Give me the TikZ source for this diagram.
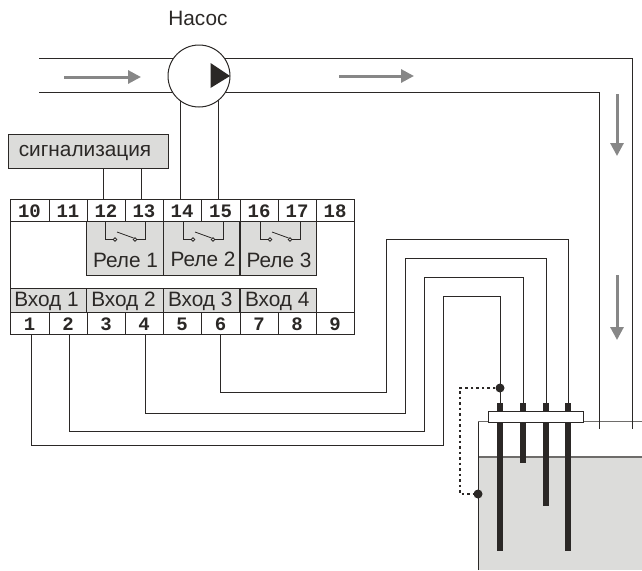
\documentclass[tikz,border=0pt]{standalone}
\usepackage{fontspec}
\setmainfont{Liberation Sans}
\newfontfamily\termfont{Liberation Mono}
\usetikzlibrary{arrows.meta}
\definecolor{ink}{HTML}{2B2826}
\definecolor{panel}{HTML}{DCDCDA}
\definecolor{flow}{HTML}{878787}
\definecolor{tankline}{HTML}{6E6C6A}
\tikzset{
  wire/.style={draw=ink,line width=0.9pt},
  term/.style={draw=ink,line width=1pt,fill=white,inner sep=0pt,minimum height=22pt},
  termtext/.style={font=\termfont\bfseries\fontsize{19}{19}\selectfont,text=ink,inner sep=0pt,anchor=base},
  label/.style={font=\fontsize{20.8}{21}\selectfont,text=ink,inner sep=0pt,anchor=base},
  cell/.style={draw=ink,line width=1pt,fill=panel,inner sep=0pt},
  flowarrow/.style={draw=flow,line width=3pt,-{Triangle[length=13pt,width=13pt]}},
  electrode/.style={fill=ink,draw=none},
  contact/.style={circle,draw=ink,line width=0.8pt,fill=white,inner sep=0pt,minimum size=3.5pt},
  dot/.style={circle,fill=ink,draw=none,inner sep=0pt,minimum size=9pt},
  signal/.style={draw=ink,line width=1.7pt,dash pattern=on 2.5pt off 3pt},
}
\begin{document}
\begin{tikzpicture}[x=1pt,y=-1pt]
\useasboundingbox (0,0) rectangle (642,570);
% tank
\fill[panel] (478,457) rectangle (642,570);
\draw[draw=tankline,line width=1.2pt] (478,457) -- (642,457);
\draw[draw=tankline,line width=1.2pt] (478,421.7) -- (642,421.7);
\draw[wire] (478,570) -- (478,421.7);
% pipes
\coordinate (pipeTopL) at (39,58.5);
\coordinate (pipeBotL) at (39,92.5);
\coordinate (pipeTopC) at (632.7,58.5);
\coordinate (pipeBotC) at (599,92.5);
\coordinate (pipeEndO) at (632.7,429);
\coordinate (pipeEndI) at (599,429);
\draw[wire] (pipeTopL) -- (pipeTopC) -- (pipeEndO);
\draw[wire] (pipeBotL) -- (pipeBotC) -- (pipeEndI);
% flow arrows
\coordinate (a1s) at (64,77); \coordinate (a1e) at (141,77);
\coordinate (a2s) at (339,76); \coordinate (a2e) at (414,76);
\coordinate (a3s) at (617,94); \coordinate (a3e) at (617,156);
\coordinate (a4s) at (617,275); \coordinate (a4e) at (617,340);
\draw[flowarrow] (a1s) -- (a1e);
\draw[flowarrow] (a2s) -- (a2e);
\draw[flowarrow] (a3s) -- (a3e);
\draw[flowarrow] (a4s) -- (a4e);
% control wires from the pump (drawn under the pump circle)
\coordinate (p14) at (180.5,199); \coordinate (m14) at (180.5,100);
\coordinate (p15) at (218,199); \coordinate (m15) at (218,100);
\draw[wire] (p14) -- (m14);
\draw[wire] (p15) -- (m15);
% pump
\node[circle,draw=ink,line width=1pt,fill=white,minimum size=62pt,inner sep=0pt] (pump) at (199,76) {};
\fill[ink] (210.5,63) -- (230,76) -- (210.5,88) -- cycle;
\node[label] (pumpname) at (198,25.7) {Насос};
% controller body
\draw[draw=ink,line width=1pt] (10,199) rectangle (354,334);
% signalling box
\node[cell,minimum width=160pt,minimum height=34.5pt] (alarm) at (88,151.3) {};
\node[label] (alarmt) at (85,156.7) {сигнализация};
% relay cells
\node[cell,minimum width=76.5pt,minimum height=54pt] (r1) at (125.2,248) {};
\node[cell,minimum width=76.5pt,minimum height=54pt] (r2) at (201.7,248) {};
\node[cell,minimum width=76pt,minimum height=54pt] (r3) at (278,248) {};
\node[label] (r1t) at (125.5,267.7) {Реле 1};
\node[label] (r2t) at (203,266) {Реле 2};
\node[label] (r3t) at (279,267.7) {Реле 3};
% inputs
\node[cell,minimum width=77pt,minimum height=24pt] (i1) at (48.5,300) {};
\node[cell,minimum width=76.5pt,minimum height=24pt] (i2) at (125.2,300) {};
\node[cell,minimum width=76.5pt,minimum height=24pt] (i3) at (201.7,300) {};
\node[cell,minimum width=76pt,minimum height=24pt] (i4) at (278,300) {};
\node[label] (i1t) at (46.5,306) {Вход 1};
\node[label] (i2t) at (123.5,306) {Вход 2};
\node[label] (i3t) at (200.2,306) {Вход 3};
\node[label] (i4t) at (277.2,306) {Вход 4};
% terminals
\foreach \n/\l/\w in {10/10/39,11/49/38,12/87/38,13/125/38,14/163/38,15/201/39,16/240/38,17/278/38,18/316/38}{
  \node[term,minimum width=\w pt] (t\n) at (\l+\w/2,210) {};
  \node[termtext] (l\n) at (\l+\w/2,217.5) {\n};
}
\foreach \n/\l/\w in {1/10/39,2/49/38,3/87/38,4/125/38,5/163/38,6/201/39,7/240/38,8/278/38,9/316/38}{
  \node[term,minimum width=\w pt] (t\n) at (\l+\w/2,323) {};
  \node[termtext] (l\n) at (\l+\w/2,330) {\n};
}
% relay contacts
\foreach \r/\a/\b/\c/\d in {1/105/115/135/145.3,2/183.3/193/213/223.7,3/260/270/290/300.3}{
  \coordinate (lead\r a) at (\a,221);
  \coordinate (lead\r d) at (\d,221);
  \node[contact] (cl\r) at (\b,239.5) {};
  \node[contact] (cr\r) at (\c,239.5) {};
  \draw[wire] (lead\r a) |- (cl\r.west);
  \draw[wire] (lead\r d) |- (cr\r.east);
  \coordinate (sw\r) at (\b+2,232);
  \draw[wire,line width=0.8pt] (sw\r) -- (cr\r.north west);
}
% alarm wires
\coordinate (p12) at (103,199); \coordinate (a12) at (103,168.5);
\coordinate (p13) at (141,199); \coordinate (a13) at (141,168.5);
\draw[wire] (a12) -- (p12);
\draw[wire] (a13) -- (p13);
% electrodes
\coordinate (e1) at (500,403); \coordinate (e2) at (523,403);
\coordinate (e3) at (546,403); \coordinate (e4) at (568,403);
\fill[electrode] (497,403) rectangle (503,551);
\fill[electrode] (520,403) rectangle (526,463);
\fill[electrode] (543,403) rectangle (549,506);
\fill[electrode] (565,403) rectangle (571,551);
\node[draw=ink,line width=1pt,fill=white,minimum width=94.7pt,minimum height=11pt,inner sep=0pt] (plate) at (536.3,416.5) {};
% sensor wires
\coordinate (w1a) at (31.5,334); \coordinate (w2a) at (69,334); \coordinate (w4a) at (145,334); \coordinate (w6a) at (220,334);
\draw[wire] (w1a) |- (443.5,445) |- (e1 |- 0,296) -- (e1);
\draw[wire] (w2a) |- (424.5,431) |- (e2 |- 0,277) -- (e2);
\draw[wire] (w4a) |- (405.5,413) |- (e3 |- 0,258) -- (e3);
\draw[wire] (w6a) |- (386.5,392) |- (e4 |- 0,239) -- (e4);
% level signal
\node[dot] (d1) at (500,388) {};
\node[dot] (d2) at (478,494) {};
\draw[signal] (d1) -- (460,388) -- (460,494) -- (d2);
\end{tikzpicture}
\end{document}
